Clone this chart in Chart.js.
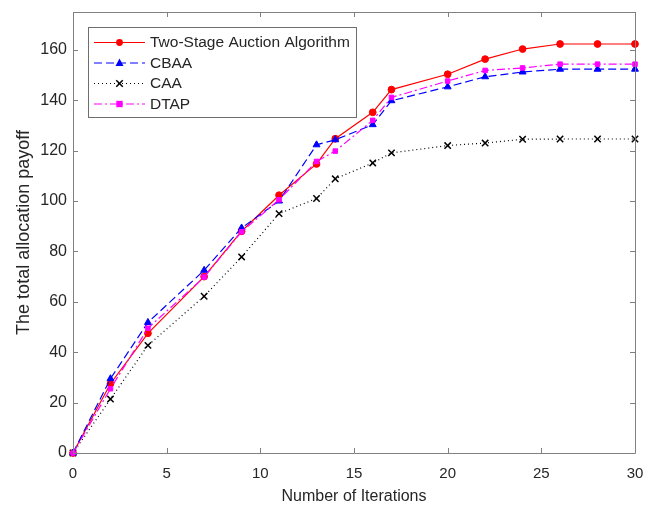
<!DOCTYPE html>
<html>
<head>
<meta charset="utf-8">
<script src="https://cdn.jsdelivr.net/npm/chart.js@4.4.0/dist/chart.umd.min.js"></script>
<style>
html,body{margin:0;padding:0;background:#fff;}
#wrap{width:654px;height:506px;}
</style>
</head>
<body>
<div id="wrap"><canvas id="c" width="654" height="506"></canvas></div>
<script>
const iterations = [0, 2, 4, 7, 9, 11, 13, 14, 16, 17, 20, 22, 24, 26, 28, 30];
const twoStage = [0, 27.5, 47.5, 70, 88, 102.3, 114.7, 124.7, 135.2, 144.2, 150.3, 156.3, 160.3, 162.3, 162.3, 162.3];
const cbaa     = [0, 29.5, 51.8, 72.5, 89.3, 100, 122.3, 124.3, 130.3, 139.8, 145.3, 149.3, 151.2, 152.3, 152.3, 152.3];
const caa      = [0, 21.4, 42.7, 62.2, 77.8, 95, 101, 108.8, 115.1, 119.1, 122, 123, 124.5, 124.6, 124.6, 124.6];
const dtap     = [0, 25.5, 49.5, 69.8, 87.8, 100.5, 115.7, 119.8, 132, 141.1, 147.6, 151.8, 152.8, 154.3, 154.3, 154.3];
const xTicks = [0, 5, 10, 15, 20, 25, 30];
const yTicks = [0, 20, 40, 60, 80, 100, 120, 140, 160];
const seriesNames = ['Two-Stage Auction Algorithm', 'CBAA', 'CAA', 'DTAP'];

const FONT = 'Liberation Sans, Arial, Helvetica, sans-serif';
const TXT = '#262626';
const AX = '#808080';

function pts(vals){ return iterations.map((x,i)=>({x:x,y:vals[i]})); }

const styles = [
  {color:'#ff0000', dash:[], marker:'circle', r:3.4},
  {color:'#0000ff', dash:[8,4], marker:'triangle', r:4},
  {color:'#000000', dash:[1,3], marker:'crossRot', r:4.5},
  {color:'#ff00ff', dash:[8,3,2,3], marker:'rect', r:3.2}
];
const allVals = [twoStage, cbaa, caa, dtap];

const datasets = allVals.map((v,i)=>({
  label: seriesNames[i],
  data: pts(v),
  borderColor: styles[i].color,
  backgroundColor: styles[i].color,
  borderWidth: 1.2,
  borderDash: styles[i].dash,
  pointStyle: styles[i].marker,
  pointRadius: styles[i].r,
  pointBorderWidth: styles[i].marker==='crossRot' ? 1.5 : 1,
  pointBackgroundColor: styles[i].color,
  pointBorderColor: styles[i].color,
  tension: 0,
  clip: false,
  order: 4 - i
}));

function drawMarker(ctx, type, x, y, r, color){
  ctx.save();
  ctx.setLineDash([]);
  ctx.fillStyle = color; ctx.strokeStyle = color;
  ctx.beginPath();
  if(type==='circle'){ ctx.arc(x,y,r,0,Math.PI*2); ctx.fill(); }
  else if(type==='triangle'){
    ctx.moveTo(x, y - r*1.1); ctx.lineTo(x + r, y + r*0.75); ctx.lineTo(x - r, y + r*0.75); ctx.closePath(); ctx.fill();
  } else if(type==='rect'){ ctx.rect(x-r,y-r,2*r,2*r); ctx.fill(); }
  else if(type==='crossRot'){
    ctx.lineWidth = 1.5;
    const d = r*0.72;
    ctx.moveTo(x-d,y-d); ctx.lineTo(x+d,y+d);
    ctx.moveTo(x+d,y-d); ctx.lineTo(x-d,y+d); ctx.stroke();
  }
  ctx.restore();
}

const boxPlugin = {
  id:'boxPlugin',
  afterDraw(chart){
    const ctx = chart.ctx, a = chart.chartArea;
    const xs = chart.scales.x, ys = chart.scales.y;
    ctx.save();
    ctx.strokeStyle = AX; ctx.lineWidth = 1; ctx.setLineDash([]);
    ctx.beginPath();
    ctx.rect(Math.round(a.left)+0.5, Math.round(a.top)+0.5, Math.round(a.right-a.left), Math.round(a.bottom-a.top));
    ctx.stroke();
    const tl = 5;
    ctx.beginPath();
    xTicks.forEach(v=>{
      const px = Math.round(xs.getPixelForValue(v))+0.5;
      ctx.moveTo(px, a.bottom); ctx.lineTo(px, a.bottom - tl);
      ctx.moveTo(px, a.top); ctx.lineTo(px, a.top + tl);
    });
    yTicks.forEach(v=>{
      const py = Math.round(ys.getPixelForValue(v))+0.5;
      ctx.moveTo(a.left, py); ctx.lineTo(a.left + tl, py);
      ctx.moveTo(a.right, py); ctx.lineTo(a.right - tl, py);
    });
    ctx.stroke();

    // legend
    const lx = 88.5, ly = 27.5, lw = 268, lh = 90;
    ctx.fillStyle = '#ffffff';
    ctx.fillRect(lx, ly, lw, lh);
    ctx.strokeStyle = '#6e6e6e';
    ctx.strokeRect(lx, ly, lw, lh);
    chart.data.datasets.forEach((ds,i)=>{
      const y = 42 + i*20.5;
      ctx.save();
      ctx.strokeStyle = ds.borderColor; ctx.lineWidth = 1.2;
      ctx.setLineDash(ds.borderDash);
      ctx.beginPath(); ctx.moveTo(94, y+0.5); ctx.lineTo(145, y+0.5); ctx.stroke();
      ctx.restore();
      drawMarker(ctx, ds.pointStyle, 119.5, y+0.5, ds.pointRadius, ds.borderColor);
      ctx.fillStyle = TXT;
      ctx.font = '15.5px ' + FONT;
      ctx.textBaseline = 'middle';
      ctx.textAlign = 'left';
      ctx.fillText(ds.label, 150, y+1);
    });
    ctx.restore();
  }
};

new Chart(document.getElementById('c'), {
  type: 'line',
  data: { datasets: datasets },
  options: {
    responsive: false,
    animation: false,
    devicePixelRatio: 1,
    layout: { padding: { top: 12, right: 19, left: 0, bottom: 0 } },
    plugins: { legend: { display: false }, tooltip: { enabled: false } },
    elements: { line: { fill: false } },
    scales: {
      x: {
        type: 'linear', min: 0, max: 30,
        afterBuildTicks(s){ s.ticks = xTicks.map(v=>({value:v})); },
        afterFit(s){ s.height = 53; s.paddingLeft = 0; s.paddingRight = 0; },
        grid: { display: false, drawTicks: false },
        border: { display: false },
        ticks: { color: TXT, font: { family: FONT, size: 15 }, padding: 12, maxRotation: 0 },
        title: { display: true, text: 'Number of Iterations', color: TXT, font: { family: FONT, size: 16 }, padding: { top: 0, bottom: 0 } }
      },
      y: {
        type: 'linear', min: 0, max: 175,
        afterBuildTicks(s){ s.ticks = yTicks.map(v=>({value:v})); },
        afterFit(s){ s.width = 73; s.paddingTop = 0; s.paddingBottom = 0; },
        grid: { display: false, drawTicks: false },
        border: { display: false },
        ticks: { color: TXT, font: { family: FONT, size: 16 }, padding: 6 },
        title: { display: true, text: 'The total allocation payoff', color: TXT, font: { family: FONT, size: 18 }, padding: { top: 13, bottom: 0 } }
      }
    }
  },
  plugins: [boxPlugin]
});
</script>
</body>
</html>
